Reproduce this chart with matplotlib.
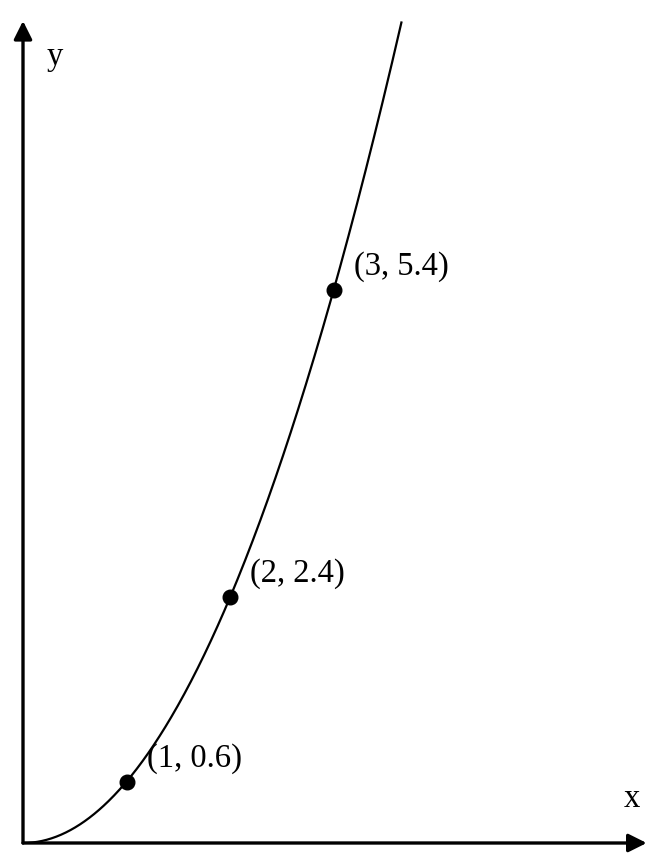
import numpy as np
import matplotlib
matplotlib.use("Agg")
import matplotlib.pyplot as plt

# ---- data ----
point_x = [1, 2, 3]
point_y = [0.6, 2.4, 5.4]
point_labels = ["(1, 0.6)", "(2, 2.4)", "(3, 5.4)"]
coef = 0.6           # curve y = coef * x^2 (matches the labelled points)
curve_x_max = 3.655  # where the drawn curve ends
x_axis_end = 6.02
y_axis_end = 8.02
axis_labels = ["x", "y"]

plt.rcParams['font.family'] = ['Liberation Serif', 'DejaVu Serif']

fig = plt.figure(figsize=(6.56, 8.59), dpi=100)
ax = fig.add_axes([0, 0, 1, 1])
ax.set_xlim(-23 / 103.6, (656 - 23) / 103.6)
ax.set_ylim(-(859 - 843) / 102.5, 843 / 102.5)
ax.axis('off')

# axes with arrows
arrow_style = '-|>,head_length=1.1,head_width=0.55'
ax.annotate('', xy=(x_axis_end, 0), xytext=(0, 0),
            arrowprops=dict(arrowstyle=arrow_style, lw=2.4, color='black',
                            shrinkA=0, shrinkB=0, mutation_scale=10))
ax.annotate('', xy=(0, y_axis_end), xytext=(0, 0),
            arrowprops=dict(arrowstyle=arrow_style, lw=2.4, color='black',
                            shrinkA=0, shrinkB=0, mutation_scale=10))

# curve
xs = np.linspace(0, curve_x_max, 400)
ax.plot(xs, coef * xs ** 2, color='black', lw=1.6, solid_capstyle='butt')

# points + labels
ax.plot(point_x, point_y, 'o', color='black', markersize=10.5)
for px, py, lab in zip(point_x, point_y, point_labels):
    ax.annotate(lab, xy=(px, py), xytext=(20, 15), textcoords='offset pixels',
                ha='left', va='baseline', fontsize=23.5, color='black')

ax.text(5.80, 0.35, axis_labels[0], ha='left', va='baseline', fontsize=23.5)
ax.text(0.232, 7.59, axis_labels[1], ha='left', va='baseline', fontsize=23.5)

fig.savefig('out.png', dpi=100)
